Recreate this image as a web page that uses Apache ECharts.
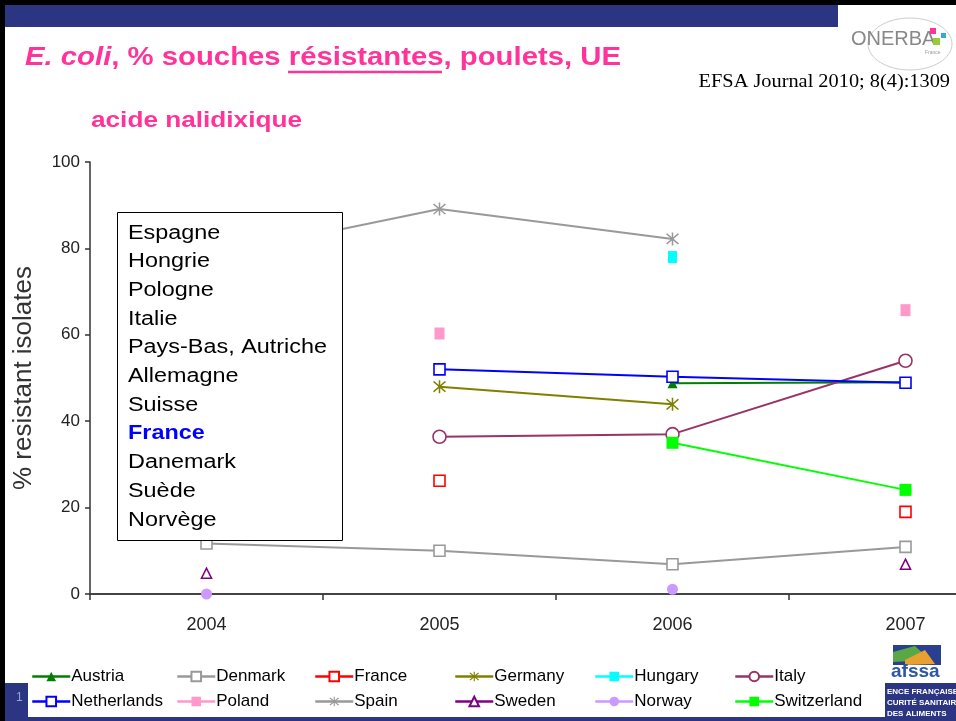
<!DOCTYPE html>
<html>
<head>
<meta charset="utf-8">
<script src="https://cdn.jsdelivr.net/npm/echarts@6/dist/echarts.min.js"></script>
<style>
html,body{margin:0;padding:0;background:#fff;overflow:hidden;width:956px;height:721px;}
#chart{width:1022px;height:721px;}
</style>
</head>
<body>
<div id="chart"></div>
<script>
// ---- data ----
var years = ['2004', '2005', '2006', '2007'];
var austria     = [null, null, 48.8, 49.0];
var denmark     = [11.7, 10.0, 6.9, 10.9];
var france      = [null, 26.2, null, 19.0];
var germany     = [null, 48.0, 43.9, null];
var hungary     = [null, null, 78.0, null];
var italy       = [null, 36.4, 37.0, 54.0];
var netherlands = [null, 52.0, 50.3, 48.9];
var poland      = [null, 60.3, null, 65.7];
var spain       = [78.0, 89.1, 82.2, null];
var sweden      = [4.8, null, null, 6.9];
var norway      = [0.0, null, 1.1, null];
var switzerland = [null, null, 35.0, 24.1];
var yTicks = [0, 20, 40, 60, 80, 100];
var boxLabels = ['Espagne', 'Hongrie', 'Pologne', 'Italie', 'Pays-Bas, Autriche', 'Allemagne', 'Suisse', 'France', 'Danemark', 'Suède', 'Norvège'];

var star = 'path://M9 0 L11 0 L11 20 L9 20 Z M1.5 3 L3 1.5 L18.5 17 L17 18.5 Z M17 1.5 L18.5 3 L3 18.5 L1.5 17 Z';
var pink = '#ff3399';
var navy = '#2b3581';
var SANS = '"Liberation Sans", Arial, sans-serif';

function mk(name, data, color, symbol, size, filled, lineShow) {
  return {
    name: name, type: 'line', data: data, connectNulls: false,
    symbol: symbol, symbolSize: size, showSymbol: true,
    lineStyle: { color: color, width: 2, opacity: lineShow ? 1 : 0 },
    itemStyle: { color: filled ? color : '#fff', borderColor: color, borderWidth: filled ? 0 : 1.6 },
    emphasis: { disabled: true }, animation: false
  };
}

var series = [
  mk('Austria', austria, '#008000', 'triangle', 10, true, true),
  mk('Denmark', denmark, '#999999', 'rect', 11, false, true),
  mk('France', france, '#ff0000', 'rect', 11, false, false),
  mk('Germany', germany, '#808000', star, 13, true, true),
  mk('Hungary', hungary, '#00ffff', 'rect', [9, 12], true, false),
  mk('Italy', italy, '#993366', 'circle', 13, false, true),
  mk('Netherlands', netherlands, '#0000ff', 'rect', 11, false, true),
  mk('Poland', poland, '#ff99cc', 'rect', [10, 12], true, false),
  mk('Spain', spain, '#999999', star, 13, true, true),
  mk('Sweden', sweden, '#800080', 'triangle', 10, false, false),
  mk('Norway', norway, '#cc99ff', 'circle', 11, true, false),
  mk('Switzerland', switzerland, '#00ff00', 'rect', 12, true, true)
];

var legendCols = [['Austria','Netherlands'],['Denmark','Poland'],['France','Spain'],['Germany','Sweden'],['Hungary','Norway'],['Italy','Switzerland']];
var legendLeft = [26, 171, 309, 449, 589, 729];
var legends = legendCols.map(function (c, i) {
  return {
    orient: 'vertical', left: legendLeft[i], top: 663, itemGap: 8,
    itemWidth: 38, itemHeight: 12, data: c, selectedMode: false,
    textStyle: { fontFamily: SANS, fontSize: 17, color: '#000', padding: [0,0,0,-4] },
    lineStyle: { opacity: 1, width: 2.5 }
  };
});

var boxText = boxLabels.map(function (t, i) {
  var isFr = t === 'France';
  return {
    type: 'text', x: 128, y: 233 + i * 28.7, scaleX: 1.17, z: 101,
    style: { text: t, font: (isFr ? 'bold ' : '') + '20px ' + SANS, fill: isFr ? '#0000ff' : '#000',
             textAlign: 'left', textVerticalAlign: 'middle' }
  };
});

var graphics = [
  // slide frame
  { type: 'rect', shape: { x: 0, y: 0, width: 1022, height: 5 }, style: { fill: '#000' }, z: 100 },
  { type: 'rect', shape: { x: 0, y: 0, width: 5, height: 721 }, style: { fill: '#000' }, z: 100 },
  { type: 'rect', shape: { x: 5, y: 5, width: 833, height: 22 }, style: { fill: navy }, z: 100 },
  { type: 'rect', shape: { x: 5, y: 683, width: 1017, height: 38 }, style: { fill: navy }, z: 0 },
  { type: 'rect', shape: { x: 28, y: 655, width: 857, height: 62 }, style: { fill: '#fff' }, z: 1 },
  { type: 'text', x: 16, y: 692, z: 2, style: { text: '1', font: '12px ' + SANS, fill: '#8fa8d8' } },
  // title
  { type: 'text', x: 25, y: 58, scaleX: 1.127, z: 100, style: {
      text: '{i|E. coli}, % souches résistantes, poulets, UE',
      font: 'bold 26px ' + SANS, fill: pink, textAlign: 'left', textVerticalAlign: 'middle',
      rich: { i: { font: 'italic bold 26px ' + SANS, fill: pink, color: pink } }
  } },
  { type: 'line', shape: { x1: 288, y1: 72, x2: 442, y2: 72 }, style: { stroke: pink, lineWidth: 2.5 }, z: 100 },
  { type: 'text', x: 91, y: 121, scaleX: 1.19, z: 100, style: { text: 'acide nalidixique', font: 'bold 22px ' + SANS, fill: pink, textAlign: 'left', textVerticalAlign: 'middle' } },
  { type: 'text', x: 950, y: 82, scaleX: 1.13, z: 100, style: { text: 'EFSA Journal 2010; 8(4):1309', font: '18px "Liberation Serif", "Times New Roman", serif', fill: '#000', textAlign: 'right', textVerticalAlign: 'middle' } },
  // ONERBA logo
  { type: 'ellipse', shape: { cx: 910, cy: 44, rx: 42, ry: 26 }, style: { fill: 'none', stroke: '#cccccc', lineWidth: 1 }, z: 100 },
  { type: 'text', x: 851, y: 39, z: 101, style: { text: 'ONERBA', font: '20px ' + SANS, fill: '#888888', textAlign: 'left', textVerticalAlign: 'middle' } },
  { type: 'rect', shape: { x: 930, y: 28, width: 6, height: 6 }, style: { fill: '#ff3399' }, z: 101 },
  { type: 'rect', shape: { x: 941, y: 33, width: 5, height: 5 }, style: { fill: '#33aadd' }, z: 101 },
  { type: 'rect', shape: { x: 933, y: 38, width: 7, height: 7 }, style: { fill: '#99cc33' }, z: 101 },
  { type: 'text', x: 925, y: 50, z: 101, style: { text: 'France', font: '5px ' + SANS, fill: '#999' } },
  // afssa logo
  { type: 'rect', shape: { x: 893, y: 645, width: 48, height: 20 }, style: { fill: '#2b3f8f' }, z: 2 },
  { type: 'polygon', shape: { points: [[893, 652], [915, 646], [930, 660], [893, 662]] }, style: { fill: '#5aa845' }, z: 3 },
  { type: 'polygon', shape: { points: [[905, 660], [925, 650], [935, 664], [905, 665]] }, style: { fill: '#e8a030' }, z: 3 },
  { type: 'text', x: 891, y: 672, z: 3, style: { text: 'afssa', font: 'bold 19px ' + SANS, fill: '#2b56a8', textVerticalAlign: 'middle' } },
  { type: 'text', x: 887, y: 686, z: 3, style: { text: 'ENCE FRANÇAISE\nCURITÉ SANITAIRE\nDES ALIMENTS', font: 'bold 8px ' + SANS, fill: '#fff', lineHeight: 11 } },
  // in-chart label box
  { type: 'rect', shape: { x: 117.5, y: 212.5, width: 225, height: 328 }, style: { fill: '#fff', stroke: '#000', lineWidth: 1 }, z: 100 }
].concat(boxText);

var chart = echarts.init(document.getElementById('chart'), null, { renderer: 'canvas' });
chart.setOption({
  animation: false,
  backgroundColor: '#fff',
  grid: { left: 90, top: 162, right: 0, bottom: 127, containLabel: false, outerBoundsMode: 'none' },
  xAxis: {
    type: 'category', data: years, boundaryGap: true,
    axisLine: { lineStyle: { color: '#444', width: 2 } },
    axisTick: { show: true, length: 6, lineStyle: { color: '#333', width: 1.5 } },
    axisLabel: { margin: 22, fontFamily: SANS, fontSize: 18, color: '#222' }
  },
  yAxis: {
    type: 'value', min: yTicks[0], max: yTicks[yTicks.length - 1], interval: 20,
    name: '% resistant isolates', nameLocation: 'middle', nameRotate: 90, nameGap: 53,
    nameTextStyle: { fontFamily: SANS, fontSize: 26, color: '#333' },
    axisLine: { show: true, lineStyle: { color: '#333', width: 1.5 } },
    axisTick: { show: true, length: 5, lineStyle: { color: '#333', width: 1.5 } },
    splitLine: { show: false },
    axisLabel: { margin: 10, fontFamily: SANS, fontSize: 17, color: '#222' }
  },
  legend: legends,
  series: series,
  graphic: graphics
});
</script>
</body>
</html>
